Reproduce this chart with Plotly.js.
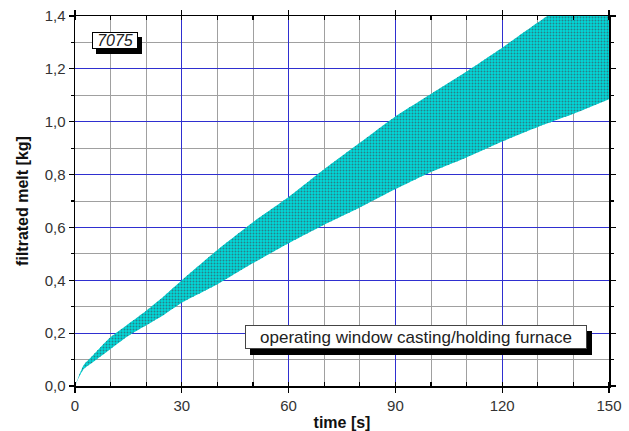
<!DOCTYPE html>
<html>
<head>
<meta charset="utf-8">
<script src="https://cdn.plot.ly/plotly-3.0.1.min.js"></script>
<style>
  html, body { margin: 0; padding: 0; background: #ffffff; }
  #chart { width: 629px; height: 431px; }
</style>
</head>
<body>
<div id="chart"></div>
<script>
// time [s]
const time = [0, 1, 2.5, 5, 10, 15, 20, 25, 30, 40, 50, 60, 70, 80, 90, 100, 110, 120, 130, 140, 150];
// lower limit of operating window [kg]
const lowerKg = [0, 0.03, 0.065, 0.09, 0.14, 0.19, 0.23, 0.27, 0.315, 0.385, 0.465, 0.54, 0.61, 0.675, 0.745, 0.81, 0.865, 0.925, 0.98, 1.03, 1.085];
// upper limit of operating window [kg]
const upperKg = [0, 0.035, 0.08, 0.115, 0.185, 0.235, 0.285, 0.34, 0.4, 0.515, 0.62, 0.715, 0.82, 0.92, 1.02, 1.105, 1.19, 1.28, 1.375, 1.47, 1.57];

const xTicks = [0, 30, 60, 90, 120, 150];
const yTicks = [0, 0.2, 0.4, 0.6, 0.8, 1.0, 1.2, 1.4];

const alloyLabel = '7075';
const windowLabel = 'operating window casting/holding furnace';
const xTitle = 'time [s]';
const yTitle = 'filtrated melt [kg]';

const FONT = 'Liberation Sans, Arial, sans-serif';
const BLUE = '#2f2fd0';
const GREY = '#a0a0a0';

const edge = {width: 0, color: '#10b0b0', shape: 'spline', smoothing: 0.5};

const traces = [
  // solid cyan base of the band
  {x: time, y: lowerKg, type: 'scatter', mode: 'lines', line: edge, hoverinfo: 'skip', showlegend: false},
  {x: time, y: upperKg, type: 'scatter', mode: 'lines', line: edge, fill: 'tonexty',
   fillcolor: '#00d8d8', hoverinfo: 'skip', showlegend: false},
  // dotted hatch on top of it
  {x: time, y: lowerKg, type: 'scatter', mode: 'lines', line: edge, hoverinfo: 'skip', showlegend: false},
  {x: time, y: upperKg, type: 'scatter', mode: 'lines', line: edge, fill: 'tonexty',
   fillcolor: 'rgba(0,0,0,0)',
   fillpattern: {shape: '.', bgcolor: 'rgba(0,0,0,0)', fgcolor: '#2a7f88', size: 3, solidity: 0.32},
   hoverinfo: 'skip', showlegend: false}
];

const axisCommon = {
  showline: true, linecolor: '#000', linewidth: 1.5, mirror: 'allticks',
  ticks: 'outside', ticklen: 5, tickwidth: 1.2, tickcolor: '#000',
  showgrid: true, gridcolor: BLUE, gridwidth: 1.2,
  zeroline: false,
  tickfont: {family: FONT, size: 15, color: '#333'}
};

const layout = {
  width: 629, height: 431,
  margin: {l: 75, r: 20, t: 16, b: 45},
  paper_bgcolor: '#fff', plot_bgcolor: '#fff',
  separators: ', ',
  font: {family: FONT, color: '#222'},
  xaxis: Object.assign({}, axisCommon, {
    range: [0, 150], tickvals: xTicks, ticktext: xTicks.map(String),
    minor: {dtick: 10, tick0: 0, showgrid: true, gridcolor: GREY, gridwidth: 1, ticks: 'inside', ticklen: 4, tickcolor: '#000'},
    title: {text: xTitle, font: {family: FONT, size: 16, color: '#111', weight: 'bold'}, standoff: 4}
  }),
  yaxis: Object.assign({}, axisCommon, {
    range: [0, 1.4], tickvals: yTicks, tickformat: '.1f',
    minor: {dtick: 0.1, tick0: 0, showgrid: true, gridcolor: GREY, gridwidth: 1, ticks: 'outside', ticklen: 3, tickcolor: '#000'},
    title: {text: yTitle, font: {family: FONT, size: 16, color: '#111', weight: 'bold'}, standoff: 12}
  }),
  annotations: [
    // drop shadows (empty boxes)
    {x: 11.2, y: 1.307, xref: 'x', yref: 'y', text: '&nbsp;', showarrow: false,
     xshift: 4, yshift: -5, width: 44, height: 15, font: {family: FONT, size: 16},
     bgcolor: '#000', bordercolor: '#000', borderwidth: 1, borderpad: 0},
    {x: 95.9, y: 0.187, xref: 'x', yref: 'y', text: '&nbsp;', showarrow: false,
     xshift: 5, yshift: -6, width: 338, height: 20, font: {family: FONT, size: 17},
     bgcolor: '#000', bordercolor: '#000', borderwidth: 1, borderpad: 1},
    // labelled boxes
    {x: 11.2, y: 1.307, xref: 'x', yref: 'y', text: alloyLabel, showarrow: false,
     width: 44, height: 15,
     font: {family: FONT, size: 16, color: '#222', style: 'italic'},
     bgcolor: '#fff', bordercolor: '#000', borderwidth: 1, borderpad: 0},
    {x: 95.9, y: 0.187, xref: 'x', yref: 'y', text: windowLabel, showarrow: false,
     width: 338, height: 20,
     font: {family: FONT, size: 17, color: '#222'},
     bgcolor: '#fff', bordercolor: '#444', borderwidth: 1, borderpad: 1}
  ]
};

Plotly.newPlot('chart', traces, layout, {staticPlot: true, displayModeBar: false});
</script>
</body>
</html>
